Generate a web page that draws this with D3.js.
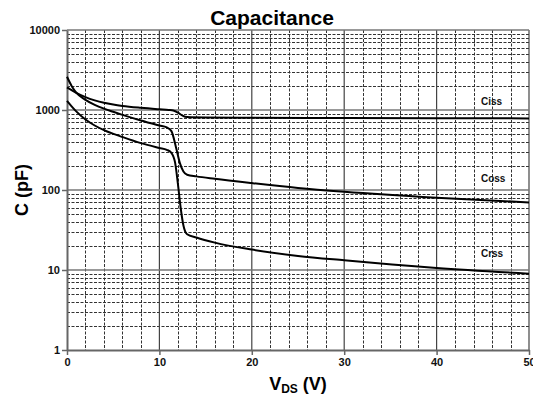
<!DOCTYPE html>
<html><head><meta charset="utf-8">
<script src="https://cdn.jsdelivr.net/npm/d3@7"></script>
<style>body{margin:0;background:#fff}svg{display:block;font-family:Arial,"Liberation Sans",sans-serif}</style>
</head><body><svg id="c" width="533" height="399"></svg>
<script>
const xTicks = [0, 10, 20, 30, 40, 50];
const yTicks = [1, 10, 100, 1000, 10000];
const cissV = [0, 1, 2, 3, 4, 5, 6, 8, 10, 11, 11.5, 12, 12.5, 13, 15, 20, 30, 40, 50];
const cissC = [1920, 1640, 1450, 1320, 1230, 1170, 1125, 1065, 1020, 1000, 985, 930, 850, 815, 805, 800, 795, 790, 785];
const cossV = [0, 0.5, 1, 2, 3, 4, 5, 6, 8, 10, 10.8, 11.3, 11.8, 12.2, 12.6, 13, 14, 16, 20, 25, 30, 40, 50];
const cossC = [2600, 2000, 1650, 1340, 1160, 1040, 950, 870, 740, 640, 605, 545, 340, 220, 170, 155, 148, 138, 122, 106, 95, 80, 70];
const crssV = [0, 0.5, 1, 2, 3, 4, 6, 8, 10, 10.8, 11.3, 11.7, 12, 12.3, 12.6, 13, 14, 16, 20, 25, 30, 40, 50];
const crssC = [1300, 1110, 960, 760, 640, 560, 460, 385, 335, 318, 292, 220, 120, 60, 36, 28, 25.5, 22, 18, 15, 13.2, 10.6, 9.0];
const seriesNames = ["Ciss", "Coss", "Crss"];
const labelPos = [[44.8, 1150], [44.8, 125], [44.8, 14.5]];

const svg = d3.select("#c");
const m = {l: 67, r: 3, t: 30, b: 49};
const W = 533, H = 399;
const x = d3.scaleLinear().domain([0, 50]).range([m.l, W - m.r - 1]);
const y = d3.scaleLog().domain([1, 10000]).range([H - m.b, m.t]);

// minor grid
const minorX = d3.range(2, 50, 2).filter(v => v % 10 !== 0);
const minorY = [];
[1, 10, 100, 1000].forEach(d => { for (let k = 2; k <= 9; k++) minorY.push(d * k); });
const g = svg.append("g");
g.selectAll(".mx").data(minorX).join("line")
  .attr("x1", d => Math.round(x(d)) + 0.5).attr("x2", d => Math.round(x(d)) + 0.5)
  .attr("y1", y(10000)).attr("y2", y(1))
  .attr("stroke", "#333").attr("stroke-width", 1).attr("stroke-dasharray", "3,1.5");
g.selectAll(".my").data(minorY).join("line")
  .attr("y1", d => Math.round(y(d)) + 0.5).attr("y2", d => Math.round(y(d)) + 0.5)
  .attr("x1", x(0)).attr("x2", x(50))
  .attr("stroke", "#333").attr("stroke-width", 1).attr("stroke-dasharray", "3,1.5");
// major grid
g.selectAll(".Mx").data(xTicks.slice(1)).join("line")
  .attr("x1", d => x(d)).attr("x2", d => x(d))
  .attr("y1", y(10000)).attr("y2", y(1))
  .attr("stroke", "#444").attr("stroke-width", 1.2);
g.selectAll(".My").data(yTicks.slice(1)).join("line")
  .attr("y1", d => y(d)).attr("y2", d => y(d))
  .attr("x1", x(0)).attr("x2", x(50))
  .attr("stroke", "#777").attr("stroke-width", 1.6);

// axes
const yAxis = d3.axisLeft(y).tickValues(yTicks).tickFormat(d3.format("d")).tickSize(5).tickSizeOuter(0);
const xAxis = d3.axisBottom(x).tickValues(xTicks).tickSize(5).tickSizeOuter(0);
const ya = svg.append("g").attr("transform", `translate(${x(0)},0)`).call(yAxis);
const xa = svg.append("g").attr("transform", `translate(0,${y(1)})`).call(xAxis);
[ya, xa].forEach(a => {
  a.select(".domain").attr("stroke", "#666").attr("stroke-width", 2);
  a.selectAll(".tick line").attr("stroke", "#666").attr("stroke-width", 1.5);
  a.selectAll("text").attr("font-size", 11).attr("font-weight", "bold").attr("fill", "#111")
    .attr("font-family", "Arial, 'Liberation Sans', sans-serif");
});
ya.selectAll("text").attr("x", -7).attr("dy", "0.35em");
xa.selectAll("text").attr("y", 8);

// curves
const line = d3.line().x(d => x(d[0])).y(d => y(d[1])).curve(d3.curveMonotoneX);
const data = [
  d3.zip(cissV, cissC),
  d3.zip(cossV, cossC),
  d3.zip(crssV, crssC)
];
svg.append("g").selectAll("path").data(data).join("path")
  .attr("d", line).attr("fill", "none").attr("stroke", "#000").attr("stroke-width", 2);

// labels
svg.append("g").selectAll("text").data(seriesNames).join("text")
  .attr("x", (d, i) => x(labelPos[i][0])).attr("y", (d, i) => y(labelPos[i][1]))
  .attr("font-size", 10).attr("font-weight", "bold").attr("fill", "#111").text(d => d);

// title
svg.append("text").attr("x", 272).attr("y", 25).attr("text-anchor", "middle")
  .attr("font-size", 21).attr("font-weight", "bold").text("Capacitance");
// y label
svg.append("text").attr("transform", "translate(28,190) rotate(-90)").attr("text-anchor", "middle")
  .attr("font-size", 18).attr("font-weight", "bold").text("C (pF)");
// x label
const xl = svg.append("text").attr("x", 298).attr("y", 390).attr("text-anchor", "middle")
  .attr("font-size", 18).attr("font-weight", "bold");
xl.append("tspan").text("V");
xl.append("tspan").attr("font-size", 12).attr("dy", 3).text("DS");
xl.append("tspan").attr("dy", -3).text(" (V)");
</script></body></html>
